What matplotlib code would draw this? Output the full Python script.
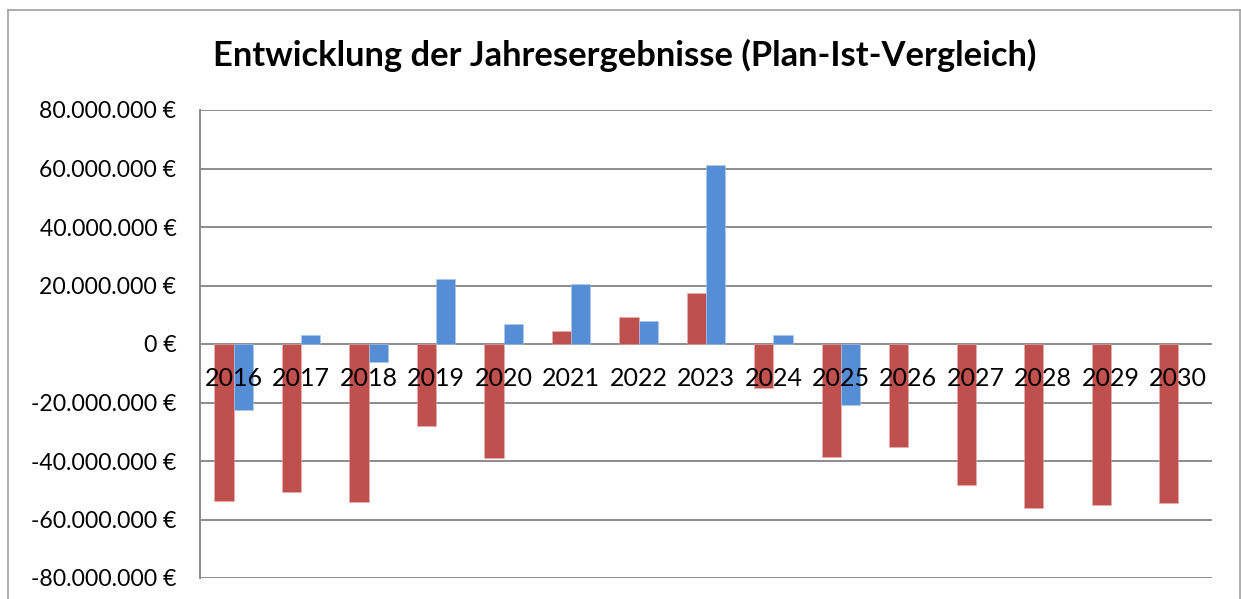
import numpy as np
import matplotlib
matplotlib.use("Agg")
import matplotlib.pyplot as plt
from matplotlib.ticker import FuncFormatter, MultipleLocator
from matplotlib.lines import Line2D

plt.rcParams['font.family'] = ['Lato', 'DejaVu Sans']

# Data (Euro)
years = ["2016", "2017", "2018", "2019", "2020", "2021", "2022", "2023",
         "2024", "2025", "2026", "2027", "2028", "2029", "2030"]
plan = np.array([-53.7, -50.5, -53.9, -28.0, -39.1, 4.3, 9.3, 17.3,
                 -15.0, -38.6, -35.3, -48.3, -56.0, -55.1, -54.4]) * 1e6
ist = np.array([-22.7, 3.1, -6.0, 22.3, 6.8, 20.6, 7.9, 61.2,
                3.1, -21.0, np.nan, np.nan, np.nan, np.nan, np.nan]) * 1e6

red = "#C0504D"
blue = "#558ED5"
grid_col = "#8C8C8C"

fig = plt.figure(figsize=(12.41, 5.99), dpi=100)
ax = fig.add_axes([200 / 1241, 1 - 578 / 599, 1012 / 1241, 468 / 599])

x = np.arange(len(years))
w = 0.286
ax.bar(x - w / 2, plan, width=w, color=red, edgecolor="#E6B0AE", linewidth=0.4, zorder=3)
ax.bar(x + w / 2, ist, width=w, color=blue, edgecolor="#B0C8EA", linewidth=0.4, zorder=3)

ax.set_xlim(-0.5, len(years) - 0.5)
ax.set_ylim(-80e6, 80e6)
ax.yaxis.set_major_locator(MultipleLocator(20e6))


def euro(v, pos):
    s = f"{abs(v):,.0f}".replace(",", ".")
    return ("-" if v < 0 else "") + s + " €"


ax.yaxis.set_major_formatter(FuncFormatter(euro))
ax.grid(axis="y", color=grid_col, linewidth=1.4, zorder=0)
ax.set_axisbelow(True)

for s in ["top", "right", "bottom"]:
    ax.spines[s].set_visible(False)
ax.spines["left"].set_color(grid_col)
ax.spines["left"].set_linewidth(1.4)

ax.set_xticks([])
ax.tick_params(axis="y", length=0, pad=17, labelsize=16.6)

# category labels sit just under the zero line, drawn over the bars
for xi, yr in zip(x, years):
    ax.annotate(yr, (xi, 0), xytext=(0, -24.5), textcoords="offset points",
                ha="center", va="center", fontsize=18, zorder=5)

fig.text(0.503, 1 - 55 / 599, "Entwicklung der Jahresergebnisse (Plan-Ist-Vergleich)",
         ha="center", va="center", fontsize=24.8, fontweight="bold")

# outer chart border
border = dict(color="#A0A0A0", linewidth=1.2, transform=fig.transFigure)
fig.add_artist(Line2D([8 / 1241, 8 / 1241], [0, 1 - 10 / 599], **border))
fig.add_artist(Line2D([8 / 1241, 1240 / 1241], [1 - 10 / 599, 1 - 10 / 599], **border))
fig.add_artist(Line2D([1240 / 1241, 1240 / 1241], [0, 1 - 10 / 599], **border))

fig.savefig("out.png", dpi=100)
